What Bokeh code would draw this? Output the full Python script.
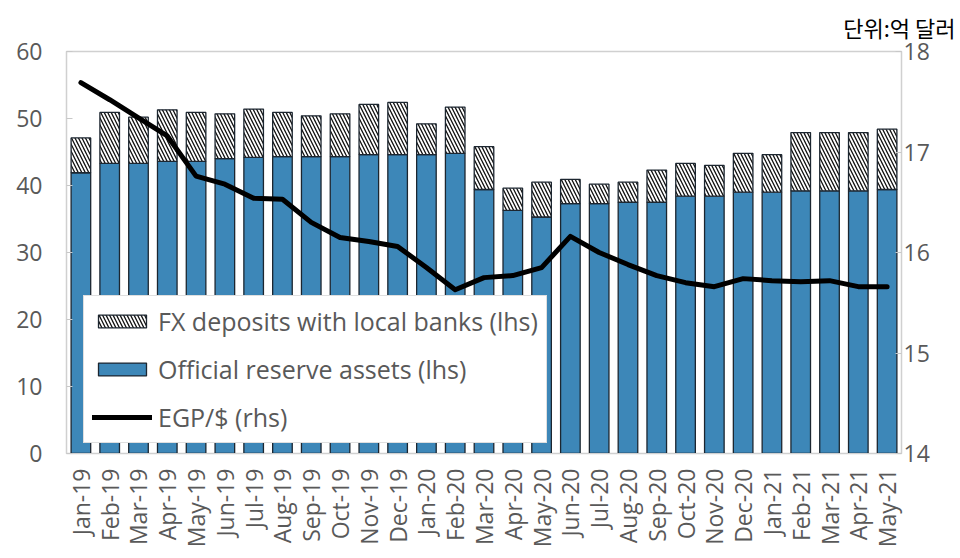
from bokeh.plotting import figure
from bokeh.models import (ColumnDataSource, FactorRange, Range1d, LinearAxis, Legend,
                          LegendItem, Title, FixedTicker)
from bokeh.transform import stack
from bokeh.embed import file_html
from bokeh.resources import INLINE
import math

months = ["Jan-19", "Feb-19", "Mar-19", "Apr-19", "May-19", "Jun-19", "Jul-19", "Aug-19",
          "Sep-19", "Oct-19", "Nov-19", "Dec-19", "Jan-20", "Feb-20", "Mar-20", "Apr-20",
          "May-20", "Jun-20", "Jul-20", "Aug-20", "Sep-20", "Oct-20", "Nov-20", "Dec-20",
          "Jan-21", "Feb-21", "Mar-21", "Apr-21", "May-21"]
official = [41.9, 43.3, 43.3, 43.6, 43.6, 44.0, 44.2, 44.3, 44.3, 44.3, 44.6, 44.6, 44.6, 44.8,
            39.4, 36.3, 35.3, 37.3, 37.3, 37.5, 37.5, 38.4, 38.4, 39.0, 39.0, 39.2, 39.2, 39.2, 39.4]
fx_deposits = [5.2, 7.6, 6.9, 7.7, 7.3, 6.7, 7.2, 6.6, 6.1, 6.4, 7.5, 7.8, 4.6, 6.9,
               6.4, 3.3, 5.2, 3.6, 2.9, 3.0, 4.8, 4.9, 4.6, 5.8, 5.6, 8.7, 8.7, 8.7, 9.0]
egp_usd = [17.69, 17.52, 17.34, 17.16, 16.76, 16.68, 16.54, 16.53, 16.30, 16.15, 16.11, 16.06,
           15.85, 15.63, 15.75, 15.77, 15.85, 16.16, 16.00, 15.88, 15.77, 15.70, 15.66, 15.74,
           15.72, 15.71, 15.72, 15.66, 15.66]
left_ticks = [0, 10, 20, 30, 40, 50, 60]
right_ticks = [14, 15, 16, 17, 18]

src = ColumnDataSource(dict(month=months, official=official, fx=fx_deposits, egp=egp_usd))

FONT = "Open Sans"
GRAY = "#595959"
BLUE = "#3d87b8"
EDGE = "#1c2630"

p = figure(width=960, height=558, x_range=FactorRange(*months, range_padding=0),
           y_range=Range1d(0, 60), output_backend="svg", toolbar_location=None,
           min_border_left=66, min_border_right=59, min_border_top=50, min_border_bottom=105)
p.extra_y_ranges = {"rhs": Range1d(14, 18)}

p.xgrid.grid_line_color = None
p.ygrid.grid_line_color = None
p.outline_line_color = "#d0d0d0"
p.outline_line_width = 1.5
p.background_fill_color = "white"
p.border_fill_color = "white"

r_off = p.vbar(x="month", top="official", width=0.68, source=src, fill_color=BLUE,
               line_color=EDGE, line_width=1.3)
r_fx = p.vbar(x="month", bottom="official", top=stack("official", "fx"), width=0.68,
              source=src, fill_color="white", line_color=EDGE, line_width=1.3,
              hatch_pattern="\\", hatch_color="#111111", hatch_scale=7, hatch_weight=1.3)
r_line = p.line(x="month", y="egp", source=src, y_range_name="rhs", line_color="black",
                line_width=5, line_join="round", line_cap="round")

# left axis
ya = p.yaxis[0]
ya.ticker = FixedTicker(ticks=left_ticks)
ya.major_label_text_font = FONT
ya.major_label_text_font_size = "23px"
ya.major_label_text_color = GRAY
ya.axis_line_color = None
ya.major_tick_in = 6
ya.major_tick_out = 0
ya.major_tick_line_color = "#c8c8c8"
ya.minor_tick_line_color = None
ya.major_label_standoff = 24

# right axis
ra = LinearAxis(y_range_name="rhs", ticker=FixedTicker(ticks=right_ticks))
ra.major_label_text_font = FONT
ra.major_label_text_font_size = "23px"
ra.major_label_text_color = GRAY
ra.axis_line_color = None
ra.major_tick_in = 6
ra.major_tick_out = 0
ra.major_tick_line_color = "#c8c8c8"
ra.minor_tick_line_color = None
ra.major_label_standoff = 2
p.add_layout(ra, "right")

# x axis
xa = p.xaxis[0]
xa.major_label_orientation = math.pi / 2
xa.major_label_text_font = FONT
xa.major_label_text_font_size = "23px"
xa.major_label_text_color = GRAY
xa.axis_line_color = "#d0d0d0"
xa.major_tick_line_color = None
xa.minor_tick_line_color = None
xa.major_label_standoff = 9

legend = Legend(items=[
    LegendItem(label="FX deposits with local banks (lhs)", renderers=[r_fx]),
    LegendItem(label="Official reserve assets (lhs)", renderers=[r_off]),
    LegendItem(label="EGP/$ (rhs)", renderers=[r_line]),
], location=(17, 10))
legend.label_text_font = FONT
legend.label_text_font_size = "25px"
legend.label_text_color = GRAY
legend.glyph_width = 60
legend.glyph_height = 16
legend.label_height = 16
legend.spacing = 14
legend.padding = 8
legend.margin = 0
legend.label_standoff = 6
legend.border_line_color = "#bfbfbf"
legend.border_line_width = 1.5
legend.background_fill_color = "white"
legend.background_fill_alpha = 1.0
p.add_layout(legend, "center")

unit = Title(text="단위:억 달러", align="right", offset=-54, standoff=17,
             text_font="Noto Sans CJK KR", text_font_size="22px", text_color="black",
             text_font_style="normal")
p.add_layout(unit, "above")

open("out.html", "w").write(file_html(p, INLINE))
